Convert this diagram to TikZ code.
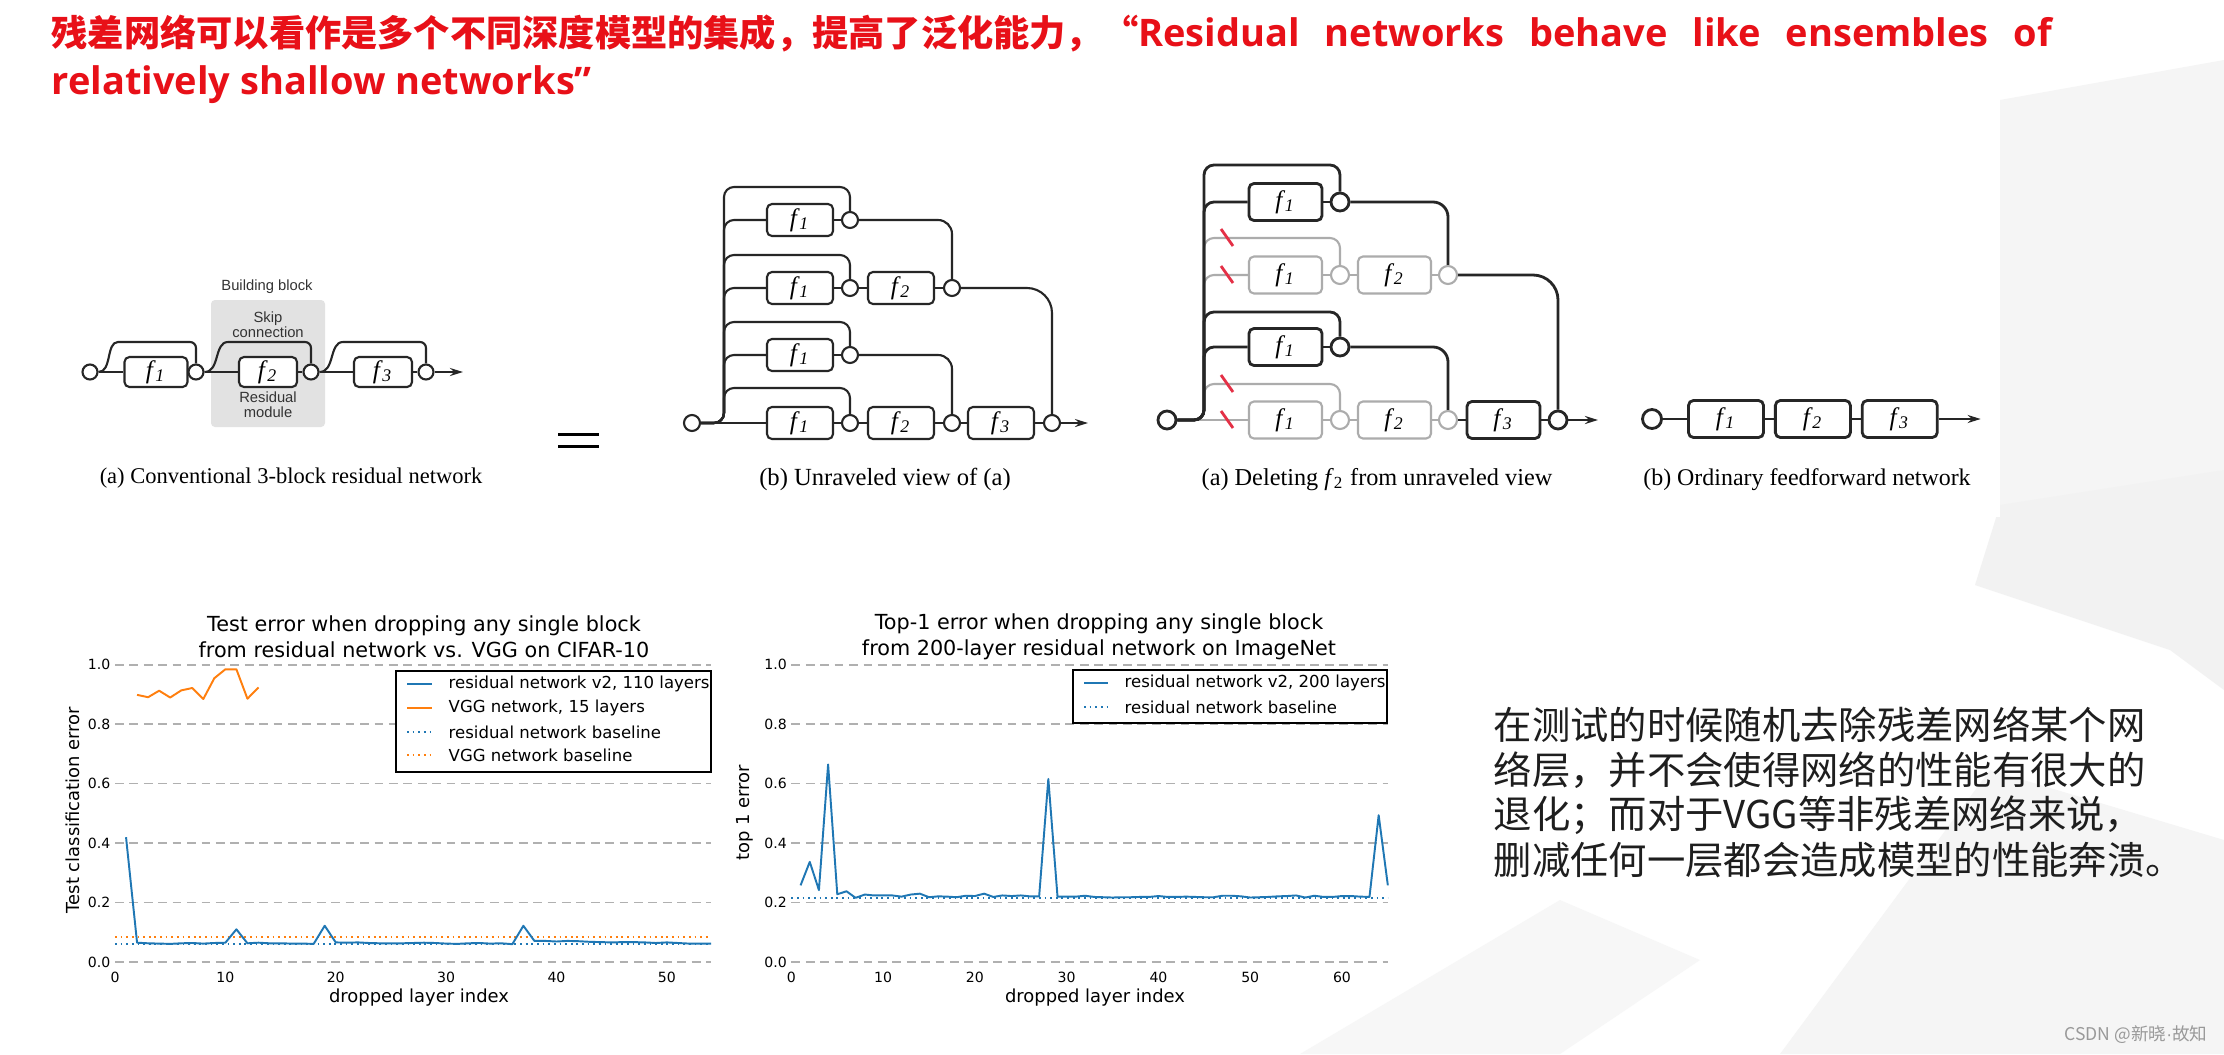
\documentclass[tikz,border=0pt]{standalone}
\usepackage{fontspec}
\setmainfont{Liberation Serif}
\newfontfamily\cjkfont{Noto Sans CJK SC}
\newfontfamily\latinfont{Open Sans}
\newfontfamily\plotfont{DejaVu Sans}
\newfontfamily\helvfont{Liberation Sans}
\usetikzlibrary{arrows.meta,positioning}

\definecolor{slidered}{RGB}{232,16,24}
\definecolor{mplblue}{RGB}{31,119,180}
\definecolor{mplorange}{RGB}{255,127,14}
\definecolor{netgray}{RGB}{172,172,172}
\definecolor{cutred}{RGB}{228,48,70}
\definecolor{blockgray}{RGB}{226,226,226}
\definecolor{gridgray}{RGB}{176,176,176}
\definecolor{bodyblack}{RGB}{30,30,30}

\newcommand{\fsub}[1]{\textit{f}\kern-0.02em\textsubscript{\textit{#1}}}
\newcommand{\titlelatin}{\latinfont\bfseries\fontsize{10.8}{12}\selectfont}

\begin{document}
\begin{tikzpicture}[
  x=0.01cm, y=-0.01cm,
  wire/.style={draw=black!85, line width=0.6pt},
  thickwire/.style={draw=black!85, line width=0.8pt},
  greywire/.style={draw=netgray, line width=0.6pt},
  arrowend/.style={-{Stealth[length=0.13cm,width=0.08cm]}},
  addnode/.style={circle, draw=black!85, fill=white, inner sep=0pt, line width=0.6pt},
  fbox/.style={draw=black!85, fill=white, rounded corners=0.05cm, inner sep=0pt,
    line width=0.6pt, font=\fontsize{7.2}{8}\selectfont},
  boxa/.style={fbox, minimum width=0.58cm, minimum height=0.30cm},
  boxb/.style={fbox, minimum width=0.66cm, minimum height=0.32cm},
  boxc/.style={fbox, minimum width=0.73cm, minimum height=0.37cm, line width=0.8pt},
  boxcg/.style={boxc, draw=netgray, line width=0.6pt},
  boxd/.style={fbox, minimum width=0.75cm, minimum height=0.37cm, line width=0.8pt},
  suma/.style={addnode, minimum size=0.15cm},
  sumb/.style={addnode, minimum size=0.16cm},
  sumc/.style={addnode, minimum size=0.18cm, line width=0.8pt},
  sumcg/.style={sumc, draw=netgray, line width=0.6pt},
  sumd/.style={addnode, minimum size=0.19cm, line width=0.8pt},
  cutmark/.style={draw=cutred, line width=0.8pt},
  smalltext/.style={font=\helvfont\fontsize{4.2}{4.3}\selectfont, text=black!80, inner sep=0pt},
  caption/.style={anchor=base, inner sep=0pt},
  titletext/.style={anchor=base west, inner sep=0pt, text=slidered,
    font=\cjkfont\bfseries\fontsize{10.3}{12}\selectfont},
  bodytext/.style={anchor=west, inner sep=0pt, text=bodyblack,
    font=\cjkfont\fontsize{10.9}{13}\selectfont},
  gridline/.style={draw=gridgray, line width=0.45pt, dash pattern=on 2.5pt off 1.6pt},
  resline/.style={draw=mplblue, line width=0.55pt, line join=round},
  vggline/.style={draw=mplorange, line width=0.55pt, line join=round},
  resbase/.style={draw=mplblue, line width=0.5pt, dash pattern=on 0.5pt off 1.1pt},
  vggbase/.style={draw=mplorange, line width=0.5pt, dash pattern=on 0.5pt off 1.1pt},
  ticklabel/.style={font=\plotfont\fontsize{4}{4.8}\selectfont, inner sep=0pt},
  axislabel/.style={font=\plotfont\fontsize{5.1}{6}\selectfont, inner sep=0pt},
  plottitle/.style={font=\plotfont\fontsize{5.9}{7.4}\selectfont, inner sep=0pt, align=center},
  legendbox/.style={draw=black, fill=white, line width=0.5pt, inner sep=0pt},
  legendtext/.style={anchor=west, font=\plotfont\fontsize{4.7}{5.6}\selectfont, inner sep=0pt}
]
\useasboundingbox (0,0) rectangle (2224,1054);
\fill[white] (0,0) rectangle (2224,1054);

% faint slide background
\fill[black!4] (2000,100) -- (2224,60) -- (2224,470) -- (2000,520) -- cycle;
\fill[black!5] (2000,505) -- (2224,470) -- (2224,690) -- (2170,650) -- (1975,585) -- cycle;
\fill[black!4] (1780,1054) -- (1990,770) -- (2224,840) -- (2224,1054) -- cycle;
\fill[black!3] (1300,1054) -- (1560,900) -- (1700,960) -- (1560,1054) -- cycle;
\fill[white] (1107,148) rectangle (2000,517);

% title
\node[titletext] (title1) at (51,46) {\makebox[19.99cm][s]{残差网络可以看作是多个不同深度模型的集成，提高了泛化能力，“{\titlelatin Residual networks behave like ensembles of}}};
\node[titletext, font=\titlelatin] (title2) at (51,94) {relatively shallow networks”};

% (a) conventional residual network
\fill[blockgray, rounded corners=0.04cm] (211,300) rectangle (325,427);
\node[smalltext] (bblabel) at (267,287) {Building block};
\node[smalltext, align=center] (skiplabel) at (268,325) {Skip\\connection};
\node[smalltext, align=center] (modlabel) at (268,405) {Residual\\module};
\node[suma] (ain) at (90,372) {};
\node[boxa, minimum width=0.63cm] (af1) at (156,372) {\fsub{1}};
\node[suma] (ac1) at (196,372) {};
\node[boxa] (af2) at (268,372) {\fsub{2}};
\node[suma] (ac2) at (311,372) {};
\node[boxa] (af3) at (383,372) {\fsub{3}};
\node[suma] (ac3) at (426,372) {};
\coordinate (aend) at (463,372);
\draw[wire] (ain) -- (af1) -- (ac1) -- (af2) -- (ac2) -- (af3) -- (ac3);
\draw[wire, arrowend] (ac3) -- (aend);
\draw[wire, rounded corners=0.06cm] (ain.east) .. controls (112,372) and (106,342) .. (124,342) -| (ac1.north);
\draw[wire, rounded corners=0.06cm] (ac1.east) .. controls (220,372) and (214,342) .. (234,342) -| (ac2.north);
\draw[wire, rounded corners=0.06cm] (ac2.east) .. controls (335,372) and (329,342) .. (349,342) -| (ac3.north);
\node[caption, font=\fontsize{6.4}{7.7}\selectfont] (capa) at (291,483) {(a) Conventional 3-block residual network};

% equals sign
\draw[line width=0.85pt] (558,434) -- (599,434);
\draw[line width=0.85pt] (558,446) -- (599,446);

% (b) unraveled view
\node[sumb] (bin) at (692,423) {};
\node[boxb] (bf11) at (800,220) {\fsub{1}};
\node[sumb] (bc11) at (850,220) {};
\node[boxb] (bf12) at (800,288) {\fsub{1}};
\node[sumb] (bc12) at (850,288) {};
\node[boxb] (bf22) at (901,288) {\fsub{2}};
\node[sumb] (bc22) at (952,288) {};
\node[boxb] (bf13) at (800,355) {\fsub{1}};
\node[sumb] (bc13) at (850,355) {};
\node[boxb] (bf14) at (800,423) {\fsub{1}};
\node[sumb] (bc14) at (850,423) {};
\node[boxb] (bf24) at (901,423) {\fsub{2}};
\node[sumb] (bc24) at (952,423) {};
\node[boxb] (bf34) at (1001,423) {\fsub{3}};
\node[sumb] (bout) at (1052,423) {};
\coordinate (bend) at (1088,423);
\foreach \r/\s in {1/187,2/255,3/322,4/388}
  \draw[wire, rounded corners=0.1cm] (bin.east) -| (724,\s) -| (bc1\r.north);
\foreach \r/\y in {1/220,2/288,3/355}
  \draw[wire, rounded corners=0.1cm] (bin.east) -| (724,\y) -- (bf1\r.west);
\draw[wire] (bin) -- (bf14);
\draw[wire] (bf11) -- (bc11);
\draw[wire] (bf12) -- (bc12) -- (bf22) -- (bc22);
\draw[wire] (bf13) -- (bc13);
\draw[wire] (bf14) -- (bc14) -- (bf24) -- (bc24) -- (bf34) -- (bout);
\draw[wire, arrowend] (bout) -- (bend);
\draw[wire, rounded corners=0.14cm] (bc11.east) -| (bc22.north);
\draw[wire, rounded corners=0.25cm] (bc22.east) -| (bout.north);
\draw[wire, rounded corners=0.14cm] (bc13.east) -| (bc24.north);
\node[caption, font=\fontsize{7}{8.4}\selectfont] (capb) at (885,485) {(b) Unraveled view of (a)};

% (c) deleting f2
\node[sumc] (cin) at (1167,420) {};
\node[boxc] (cf11) at (1285.5,202) {\fsub{1}};
\node[sumc] (cc11) at (1340,202) {};
\node[boxcg] (cf12) at (1285.5,275) {\fsub{1}};
\node[sumcg] (cc12) at (1340,275) {};
\node[boxcg] (cf22) at (1394.5,275) {\fsub{2}};
\node[sumcg] (cc22) at (1448,275) {};
\node[boxc] (cf13) at (1285.5,347) {\fsub{1}};
\node[sumc] (cc13) at (1340,347) {};
\node[boxcg] (cf14) at (1285.5,420) {\fsub{1}};
\node[sumcg] (cc14) at (1340,420) {};
\node[boxcg] (cf24) at (1394.5,420) {\fsub{2}};
\node[sumcg] (cc24) at (1448,420) {};
\node[boxc] (cf34) at (1503.5,420) {\fsub{3}};
\node[sumc] (cout) at (1558,420) {};
\coordinate (cend) at (1598,420);
\draw[greywire, rounded corners=0.1cm] (cin.east) -| (1204,238) -| (cc12.north);
\draw[greywire, rounded corners=0.1cm] (cin.east) -| (1204,275) -- (cf12.west);
\draw[greywire, rounded corners=0.1cm] (cin.east) -| (1204,384) -| (cc14.north);
\draw[greywire] (cin) -- (cf14);
\draw[greywire] (cf12) -- (cc12) -- (cf22) -- (cc22);
\draw[greywire] (cf14) -- (cc14) -- (cf24) -- (cc24);
\draw[thickwire, rounded corners=0.1cm] (cin.east) -| (1204,165) -| (cc11.north);
\draw[thickwire, rounded corners=0.1cm] (cin.east) -| (1204,202) -- (cf11.west);
\draw[thickwire, rounded corners=0.1cm] (cin.east) -| (1204,312) -| (cc13.north);
\draw[thickwire, rounded corners=0.1cm] (cin.east) -| (1204,347) -- (cf13.west);
\draw[thickwire] (cf11) -- (cc11);
\draw[thickwire] (cf13) -- (cc13);
\draw[thickwire, rounded corners=0.15cm] (cc11.east) -| (cc22.north);
\draw[thickwire, rounded corners=0.25cm] (cc22.east) -| (cout.north);
\draw[thickwire, rounded corners=0.15cm] (cc13.east) -| (cc24.north);
\draw[thickwire] (cc24) -- (cf34) -- (cout);
\draw[thickwire, arrowend] (cout) -- (cend);
\foreach \y in {238,275,384,420}
  \draw[cutmark] (1221,\y-9) -- (1233,\y+8);
\node[caption, font=\fontsize{6.9}{8.3}\selectfont] (capc) at (1377,485) {(a) Deleting \textit{f}\textsubscript{2} from unraveled view};

% (d) ordinary feedforward network
\node[sumd] (din) at (1652,419) {};
\node[boxd] (df1) at (1726,419) {\fsub{1}};
\node[boxd, right=0.09cm of df1] (df2) {\fsub{2}};
\node[boxd, right=0.09cm of df2] (df3) {\fsub{3}};
\coordinate[right=0.42cm of df3] (dend);
\draw[thickwire] (din) -- (df1) -- (df2) -- (df3);
\draw[thickwire, arrowend] (df3) -- (dend);
\node[caption, font=\fontsize{6.8}{8.2}\selectfont] (capd) at (1807,485) {(b) Ordinary feedforward network};

% chart 1: CIFAR-10
\node[plottitle] (ttla) at (424,637) {Test error when dropping any single block\\from residual network vs. VGG on CIFAR-10};
\begin{scope}[shift={(115,962)}, x=0.1103cm, y=2.97cm]
  \foreach \v/\t [count=\i] in {0/0.0,0.2/0.2,0.4/0.4,0.6/0.6,0.8/0.8,1/1.0} {
    \draw[gridline] (0,\v) -- (54,\v);
    \node[ticklabel, anchor=east, xshift=-0.04cm] (yta\i) at (0,\v) {\t};
  }
  \foreach \u in {0,10,...,50}
    \node[ticklabel, yshift=-0.15cm] (xta\u) at (\u,0) {\u};
  \draw[resbase] (0,0.061) -- (54,0.061);
  \draw[vggbase] (0,0.084) -- (54,0.084);
  \draw[vggline] plot coordinates {(2,0.899) (3,0.891) (4,0.913) (5,0.890) (6,0.914)
    (7,0.922) (8,0.885) (9,0.955) (10,0.985) (11,0.985) (12,0.886) (13,0.924)};
  \draw[resline] plot coordinates {(1,0.42) (2,0.065) (3,0.063) (4,0.062) (5,0.061)
    (6,0.063) (7,0.064) (8,0.062) (9,0.064) (10,0.065) (11,0.11) (12,0.063) (13,0.065)
    (14,0.063) (15,0.063) (16,0.062) (17,0.062) (18,0.061) (19,0.122) (20,0.066)
    (21,0.065) (22,0.066) (23,0.064) (24,0.063) (25,0.063) (26,0.063) (27,0.064)
    (28,0.065) (29,0.064) (30,0.062) (31,0.061) (32,0.063) (33,0.064) (34,0.062)
    (35,0.063) (36,0.060) (37,0.122) (38,0.071) (39,0.071) (40,0.069) (41,0.071)
    (42,0.070) (43,0.068) (44,0.067) (45,0.066) (46,0.067) (47,0.067) (48,0.066)
    (49,0.064) (50,0.066) (51,0.064) (52,0.062) (53,0.062) (54,0.062)};
\end{scope}
\node[axislabel] (xlaba) at (419,998) {dropped layer index};
\node[axislabel, rotate=90] (ylaba) at (73,810) {Test classification error};
\node[legendbox, minimum width=3.15cm, minimum height=1.01cm] (lega) at (553.5,721.5) {};
\draw[resline] (407,684) -- (432,684);
\draw[vggline] (407,708) -- (432,708);
\draw[resbase] (407,732) -- (432,732);
\draw[vggbase] (407,755) -- (432,755);
\node[legendtext] (lega1) at (448,684) {residual network v2, 110 layers};
\node[legendtext] (lega2) at (448,708) {VGG network, 15 layers};
\node[legendtext] (lega3) at (448,732) {residual network baseline};
\node[legendtext] (lega4) at (448,755) {VGG network baseline};

% chart 2: ImageNet
\node[plottitle] (ttlb) at (1099,637) {Top-1 error when dropping any single block\\from 200-layer residual network on ImageNet};
\begin{scope}[shift={(791.4,962)}, x=0.0917cm, y=2.97cm]
  \foreach \v/\t [count=\i] in {0/0.0,0.2/0.2,0.4/0.4,0.6/0.6,0.8/0.8,1/1.0} {
    \draw[gridline] (0,\v) -- (65,\v);
    \node[ticklabel, anchor=east, xshift=-0.04cm] (ytb\i) at (0,\v) {\t};
  }
  \foreach \u in {0,10,...,60}
    \node[ticklabel, yshift=-0.15cm] (xtb\u) at (\u,0) {\u};
  \draw[resbase] (0,0.216) -- (65,0.216);
  \draw[resline] plot coordinates {(1,0.258) (2,0.337) (3,0.242) (4,0.665) (5,0.228)
    (6,0.238) (7,0.216) (8,0.227) (9,0.224) (10,0.224) (11,0.224) (12,0.220) (13,0.227)
    (14,0.230) (15,0.218) (16,0.221) (17,0.220) (18,0.218) (19,0.223) (20,0.222)
    (21,0.230) (22,0.219) (23,0.224) (24,0.222) (25,0.224) (26,0.221) (27,0.221)
    (28,0.616) (29,0.220) (30,0.220) (31,0.220) (32,0.223) (33,0.219) (34,0.218)
    (35,0.217) (36,0.218) (37,0.218) (38,0.219) (39,0.219) (40,0.222) (41,0.219)
    (42,0.219) (43,0.220) (44,0.219) (45,0.218) (46,0.218) (47,0.223) (48,0.223)
    (49,0.221) (50,0.217) (51,0.218) (52,0.219) (53,0.221) (54,0.222) (55,0.224)
    (56,0.217) (57,0.223) (58,0.219) (59,0.219) (60,0.222) (61,0.222) (62,0.220)
    (63,0.219) (64,0.494) (65,0.258)};
\end{scope}
\node[axislabel] (xlabb) at (1095,998) {dropped layer index};
\node[axislabel, rotate=90] (ylabb) at (744.5,813) {top 1 error};
\node[legendbox, minimum width=3.14cm, minimum height=0.53cm] (legb) at (1230,696.5) {};
\draw[resline] (1084,683) -- (1108,683);
\draw[resbase] (1084,707) -- (1108,707);
\node[legendtext] (legb1) at (1124,683) {residual network v2, 200 layers};
\node[legendtext] (legb2) at (1124,707) {residual network baseline};

% right-hand remark
\node[bodytext] (body1) at (1493,725) {在测试的时候随机去除残差网络某个网};
\node[bodytext] (body2) at (1493,770) {络层，并不会使得网络的性能有很大的};
\node[bodytext] (body3) at (1493,815) {退化；而对于VGG等非残差网络来说，};
\node[bodytext] (body4) at (1493,860) {删减任何一层都会造成模型的性能奔溃。};

% watermark
\node[anchor=east, inner sep=0pt, text=black!40, font=\cjkfont\fontsize{5}{6}\selectfont] (mark) at (2208,1035) {CSDN @新晓{\helvfont ·}故知};
\end{tikzpicture}
\end{document}
